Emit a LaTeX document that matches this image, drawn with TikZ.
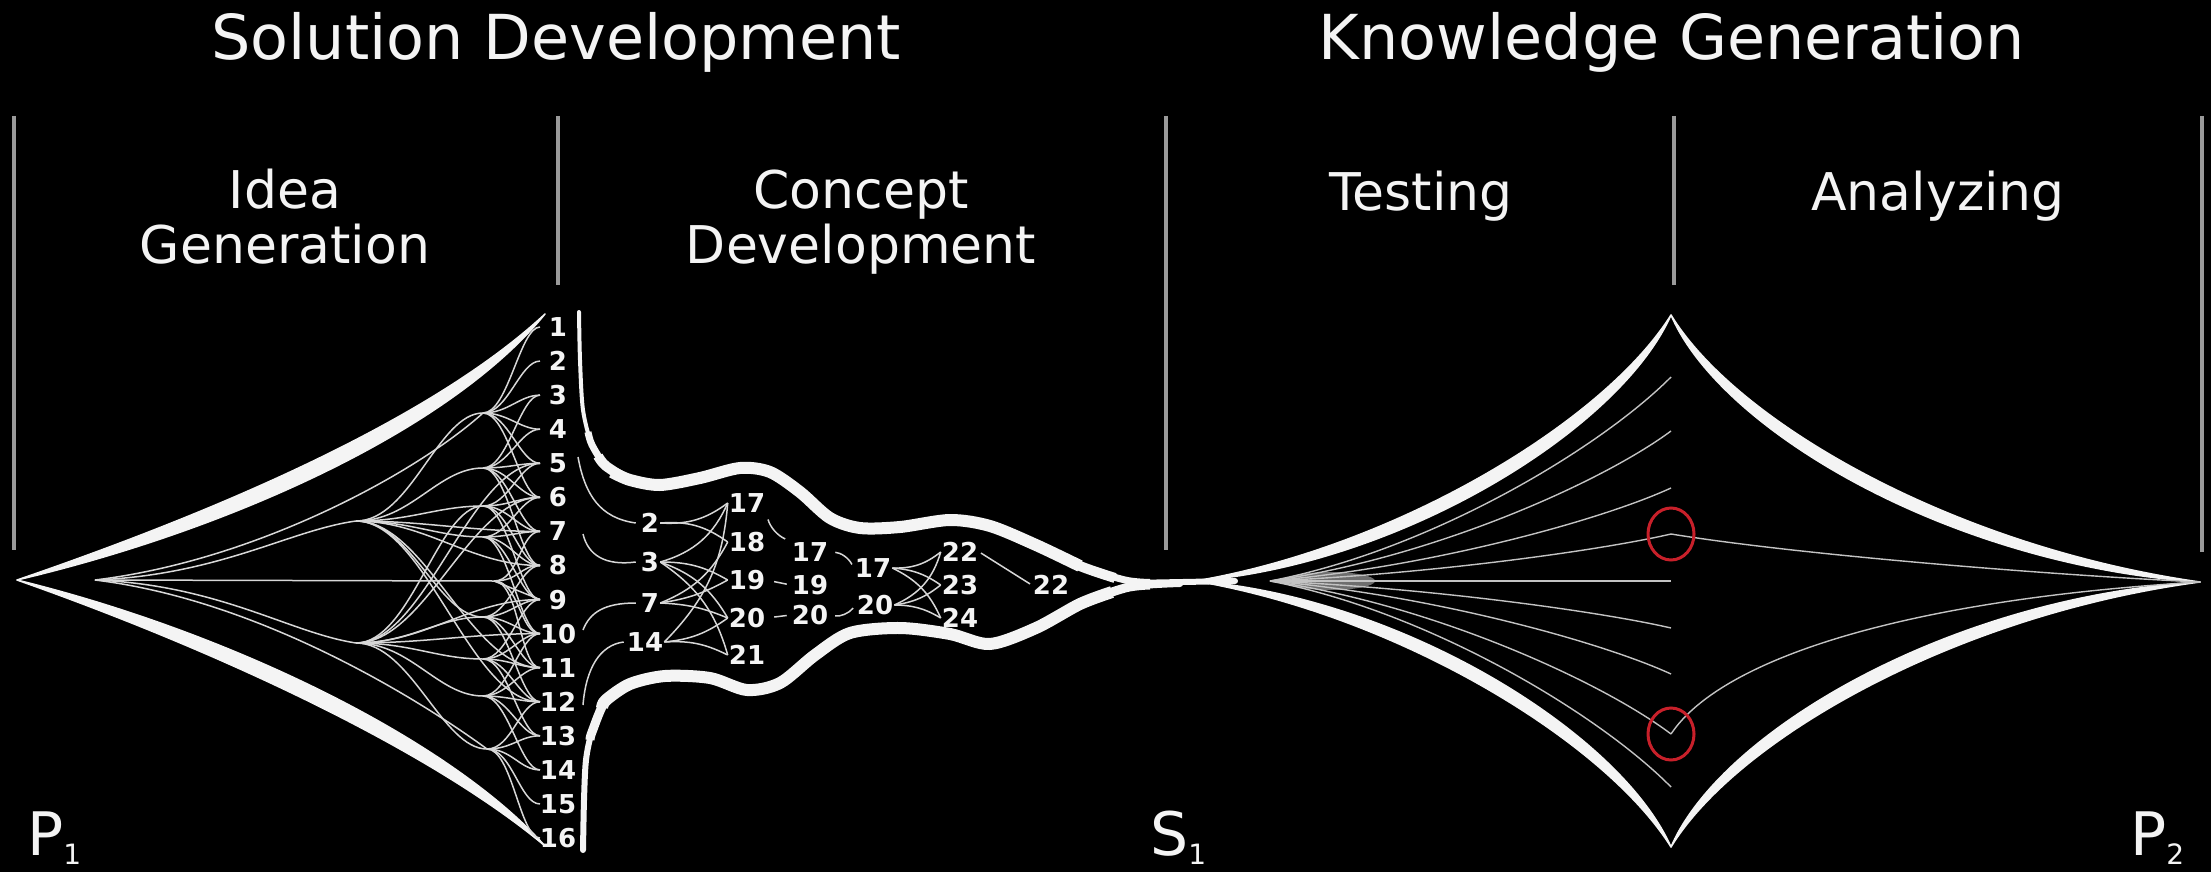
\documentclass[tikz,border=0pt]{standalone}
\usepackage{fontspec}
\setmainfont{DejaVu Sans}
\usetikzlibrary{calc}
\definecolor{chalkc}{HTML}{F4F4F4}
\definecolor{sepc}{HTML}{9A9A9A}
\definecolor{ringc}{HTML}{C8202A}
\newcommand\chalkedge[6]{\filldraw[chalk] #1 .. controls #2 and #3 .. #4 .. controls ($#3+#6$) and ($#2+#5$) .. #1 -- cycle;}
\begin{document}
\begin{tikzpicture}[x=1pt,y=-1pt,
  chalk/.style={fill=chalkc, draw=chalkc, line width=1.5pt, line join=round},
  band/.style={draw=chalkc, line cap=butt, line join=round},
  twig/.style={draw=chalkc!88!black, line width=1.5pt},
  fine/.style={draw=chalkc!80!black, line width=1.4pt},
  sepline/.style={draw=sepc, line width=4pt},
  title/.style={text=chalkc, font=\fontsize{62}{62}\selectfont, anchor=base, inner sep=0pt},
  phase/.style={text=chalkc, font=\fontsize{52}{52}\selectfont, anchor=base, inner sep=0pt},
  num/.style={text=chalkc, font=\bfseries\fontsize{26}{26}\selectfont, inner sep=1pt},
  ptlabel/.style={text=chalkc, font=\fontsize{60}{60}\selectfont, anchor=base west, inner sep=0pt},
  ring/.style={draw=ringc, line width=3pt}]
\fill[black] (0,0) rectangle (2211,872);
\useasboundingbox (0,0) rectangle (2211,872);

% separators
\draw[sepline] (14,116) -- (14,550);
\draw[sepline] (558,116) -- (558,285);
\draw[sepline] (1166,116) -- (1166,550);
\draw[sepline] (1674,116) -- (1674,285);
\draw[sepline] (2202,116) -- (2202,552);

% titles
\node[title] (t1) at (556,60) {Solution Development};
\node[title] (t2) at (1672,60) {Knowledge Generation};
\node[phase] (ph1a) at (285,208) {Idea};
\node[phase] (ph1b) at (285,263) {Generation};
\node[phase] (ph2a) at (861,208) {Concept};
\node[phase] (ph2b) at (861,263) {Development};
\node[phase] (ph3) at (1421,210) {Testing};
\node[phase] (ph4) at (1938,210) {Analyzing};

% left funnel edges
\chalkedge{(17,580)}{(230,530)}{(450,430)}{(545,314)}{(-3,-22)}{(-16,-13)}
\chalkedge{(17,580)}{(230,632)}{(450,740)}{(545,846)}{(-3,22)}{(-16,13)}

% channel (layered strokes for a taper)
\draw[band, line width=4pt, line cap=round] plot[smooth] coordinates {(579,312)(580,360)(583,410)(592,445)(606,466)(630,480)(660,485)(700,478)(740,468)(770,472)(800,492)(830,518)(860,528)(900,527)(950,520)(990,526)(1036,545)(1080,566)(1125,580)(1180,583)};
\draw[band, line width=7pt] plot[smooth] coordinates {(588,432)(592,445)(606,466)(630,480)(660,485)(700,478)(740,468)(770,472)(800,492)(830,518)(860,528)(900,527)(950,520)(990,526)(1036,545)(1080,566)(1125,580)(1150,582.5)};
\draw[band, line width=10pt] plot[smooth] coordinates {(598,456)(606,466)(630,480)(660,485)(700,478)(740,468)(770,472)(800,492)(830,518)(860,528)(900,527)(950,520)(990,526)(1036,545)(1080,566)(1115,578)};
\draw[band, line width=12pt] plot[smooth] coordinates {(612,472)(630,480)(660,485)(700,478)(740,468)(770,472)(800,492)(830,518)(860,528)(900,527)(950,520)(990,526)(1036,545)(1080,566)};
\draw[band, line width=6pt, line cap=round] plot[smooth] coordinates {(583,850)(584,800)(586,760)(592,732)(606,700)(630,684)(665,676)(710,678)(747,690)(780,683)(815,655)(850,633)(900,628)(950,634)(990,644)(1036,628)(1080,604)(1125,588)(1180,584)};
\draw[band, line width=9pt] plot[smooth] coordinates {(590,740)(592,732)(606,700)(630,684)(665,676)(710,678)(747,690)(780,683)(815,655)(850,633)(900,628)(950,634)(990,644)(1036,628)(1080,604)(1125,588)(1150,585)};
\draw[band, line width=12pt] plot[smooth] coordinates {(602,708)(606,700)(630,684)(665,676)(710,678)(747,690)(780,683)(815,655)(850,633)(900,628)(950,634)(990,644)(1036,628)(1080,604)(1112,592)};
\draw[band, line width=6pt, line cap=round] (1130,583) -- (1235,581);

% diamond edges
\coordinate (lt) at (1195,581);
\coordinate (tp) at (1671,315);
\coordinate (bt) at (1671,847);
\coordinate (rt) at (2200,582);
\chalkedge{(1195,581)}{(1400,565)}{(1620,430)}{(1671,315)}{(-4,-18)}{(-16,-8)}
\chalkedge{(1671,315)}{(1720,430)}{(1950,565)}{(2200,582)}{(16,-8)}{(4,-18)}
\chalkedge{(1195,581)}{(1400,597)}{(1620,732)}{(1671,847)}{(-4,18)}{(-16,8)}
\chalkedge{(1671,847)}{(1720,732)}{(1950,597)}{(2200,582)}{(16,8)}{(4,18)}

% left network
\coordinate (root) at (95,580);
\coordinate (U1) at (356,521);
\coordinate (D1) at (356,643);
\coordinate (Ma) at (483,413);
\coordinate (Mb) at (483,468);
\coordinate (Mc) at (483,506);
\coordinate (Md) at (483,537);
\coordinate (Me) at (494,581);
\coordinate (Mf) at (483,617);
\coordinate (Mg) at (483,659);
\coordinate (Mh) at (483,696);
\coordinate (Mi) at (487,749);
\foreach \k in {1,...,16} \coordinate (e\k) at (540,{327+(\k-1)*34.07});

\draw[twig] (root) .. controls (220,575) and (290,530) .. (U1);
\draw[twig] (root) .. controls (220,585) and (290,633) .. (D1);
\draw[twig] (root) -- (Me);
\draw[twig] (root) .. controls (260,560) and (420,470) .. (Ma);
\draw[twig] (root) .. controls (260,600) and (420,700) .. (Mi);
\draw[twig] (Me) -- (e9);
\foreach \a/\b in {U1/Ma,U1/Mb,U1/Mc,U1/Md,U1/Mf,D1/Mf,D1/Mg,D1/Mh,D1/Mi,D1/Mc}
  \draw[twig] (\a) .. controls +(55,0) and +(-45,0) .. (\b);
\foreach \a/\b in {U1/e7,U1/e8,U1/e11,U1/e12,D1/e5,D1/e6,D1/e9,D1/e10}
  \draw[twig] (\a) .. controls +(70,0) and +(-70,0) .. (\b);
\foreach \a/\b in {Ma/e1,Ma/e2,Ma/e3,Ma/e4,Ma/e5,Ma/e6,
  Mb/e3,Mb/e4,Mb/e5,Mb/e6,Mb/e7,Mb/e8,
  Mc/e5,Mc/e6,Mc/e7,Mc/e8,Mc/e9,
  Md/e6,Md/e7,Md/e8,Md/e9,Md/e10,
  Me/e7,Me/e8,Me/e10,Me/e11,
  Mf/e8,Mf/e9,Mf/e10,Mf/e11,Mf/e12,
  Mg/e9,Mg/e10,Mg/e11,Mg/e12,Mg/e13,
  Mh/e10,Mh/e11,Mh/e12,Mh/e13,Mh/e14,
  Mi/e12,Mi/e13,Mi/e14,Mi/e15,Mi/e16}
  \draw[twig] (\a) .. controls +(25,0) and +(-20,0) .. (\b);

% idea numbers
\foreach \k in {1,...,16} \node[num] (n\k) at (558,{327+(\k-1)*34.07}) {\k};

% concept numbers
\node[num] (c2) at (650,523) {2};
\node[num] (c3) at (650,562) {3};
\node[num] (c7) at (650,603) {7};
\node[num] (c14) at (645,642) {14};
\node[num] (d17) at (747,503) {17};
\node[num] (d18) at (747,542) {18};
\node[num] (d19) at (747,580) {19};
\node[num] (d20) at (747,618) {20};
\node[num] (d21) at (747,655) {21};
\node[num] (f17) at (810,552) {17};
\node[num] (f19) at (810,585) {19};
\node[num] (f20) at (810,615) {20};
\node[num] (g17) at (873,568) {17};
\node[num] (g20) at (875,605) {20};
\node[num] (h22) at (960,552) {22};
\node[num] (h23) at (960,585) {23};
\node[num] (h24) at (960,618) {24};
\node[num] (k22) at (1051,585) {22};

% arcs from idea column
\coordinate (a1) at (578,457);
\coordinate (a2) at (583,534);
\coordinate (a3) at (583,630);
\coordinate (a4) at (583,705);
\draw[twig] (a1) .. controls (585,495) and (600,518) .. ($(c2.west)+(-4,0)$);
\draw[twig] (a2) .. controls (588,555) and (605,566) .. ($(c3.west)+(-4,0)$);
\draw[twig] (a3) .. controls (590,612) and (605,603) .. ($(c7.west)+(-4,0)$);
\draw[twig] (a4) .. controls (586,668) and (600,645) .. ($(c14.west)+(-2,0)$);

% concept network
\foreach \a/\b/\bb in {c2/d17/-20,c2/d18/20,c3/d17/-25,c3/d19/15,c3/d20/20,c3/d21/20,c7/d18/-20,c7/d19/-10,c7/d20/10,c14/d17/-20,c14/d20/-15,c14/d21/15}
  \draw[twig] (\a.east) to[bend left=\bb] (\b.west);
\draw[twig, shorten <=8pt, shorten >=4pt] (d19.east) -- (f19.west);
\draw[twig, shorten <=8pt, shorten >=4pt] (d20.east) -- (f20.west);
\draw[twig, shorten <=6pt, shorten >=6pt] (d17.south east) to[bend right=25] (f17.north west);
\draw[twig, shorten <=6pt, shorten >=4pt] (f17.east) to[bend left=30] (g17.west);
\draw[twig, shorten <=6pt, shorten >=4pt] (f20.east) to[bend right=30] (g20.west);
\foreach \a/\b/\bb in {g17/h22/-20,g17/h23/15,g17/h24/20,g20/h22/-25,g20/h23/-15,g20/h24/15}
  \draw[twig] (\a.east) to[bend left=\bb] (\b.west);
\draw[twig, shorten <=2pt, shorten >=2pt] (h22.east) -- (k22.west);

% testing lines
\coordinate (ds) at (1270,581);
\fill[chalkc, opacity=0.45] (1330,581) ellipse [x radius=45pt, y radius=9pt];
\foreach \i/\y in {1/377,2/431,3/488,4/534,5/581,6/628,7/674,8/734,9/787}{
  \coordinate (tt\i) at (1671,\y);
  \draw[fine] (ds) .. controls (1430,{581+(\y-581)*0.15}) and (1600,{581+(\y-581)*0.65}) .. (tt\i);
}
\draw[fine] (tt4) .. controls (1800,555) and (2050,575) .. (rt);
\draw[fine] (tt8) .. controls (1720,660) and (1900,600) .. (rt);
\draw[ring] (tt4) ellipse [x radius=23pt, y radius=26pt];
\draw[ring] (tt8) ellipse [x radius=23pt, y radius=26pt];

% point labels
\node[ptlabel] (p1) at (27,855) {P\raisebox{-9pt}{\fontsize{28}{28}\selectfont 1}};
\node[ptlabel] (s1) at (1150,855) {S\raisebox{-9pt}{\fontsize{28}{28}\selectfont 1}};
\node[ptlabel] (p2) at (2130,855) {P\raisebox{-9pt}{\fontsize{28}{28}\selectfont 2}};
\end{tikzpicture}
\end{document}
